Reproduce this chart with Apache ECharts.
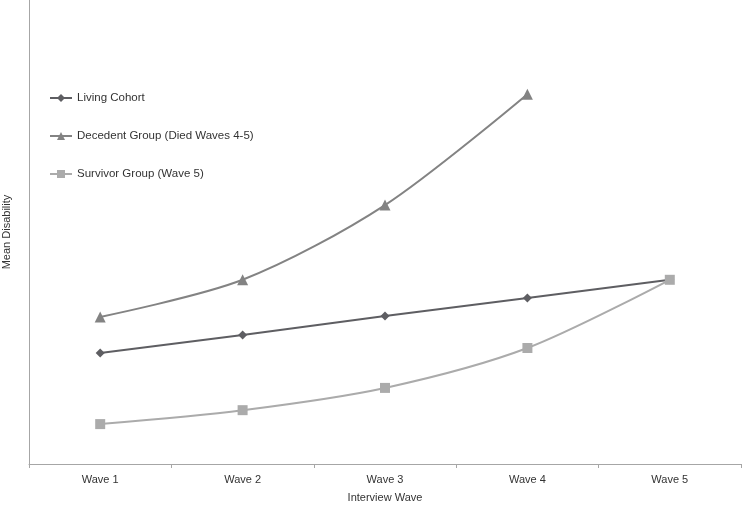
<!DOCTYPE html>
<html>
<head>
<meta charset="utf-8">
<script src="https://cdn.jsdelivr.net/npm/echarts@6/dist/echarts.min.js"></script>
<style>
  html, body { margin: 0; padding: 0; background: #fff; }
  #chart { width: 742px; height: 505px; }
</style>
</head>
<body>
<div id="chart"></div>
<script>
const waves = ['Wave 1', 'Wave 2', 'Wave 3', 'Wave 4', 'Wave 5'];
const living = [23.9, 27.8, 31.9, 35.8, 39.7];
const decedent = [31.7, 39.7, 55.8, 79.7, null];
const survivor = [8.6, 11.6, 16.4, 25.0, 39.7];

const FONT = 'Liberation Sans, Arial, sans-serif';
const AXIS = '#a6a6a6';
const TEXT = '#333';

const chart = echarts.init(document.getElementById('chart'));
chart.setOption({
  animation: false,
  textStyle: { fontFamily: FONT },
  grid: { left: 29, right: 1, top: 0, bottom: 41, containLabel: false, outerBoundsMode: 'none' },
  legend: {
    orient: 'vertical',
    left: 44,
    top: 87,
    itemWidth: 22,
    itemHeight: 10,
    itemGap: 26,
    textStyle: { color: TEXT, fontSize: 11.5, fontFamily: FONT },
    data: ['Living Cohort', 'Decedent Group (Died Waves 4-5)', 'Survivor Group (Wave 5)'],
  },
  xAxis: {
    type: 'category',
    data: waves,
    boundaryGap: true,
    name: 'Interview Wave',
    nameLocation: 'middle',
    nameGap: 28,
    nameTextStyle: { color: TEXT, fontSize: 11 },
    axisLine: { lineStyle: { color: AXIS } },
    axisTick: { show: true, length: 4, lineStyle: { color: AXIS } },
    axisLabel: { color: TEXT, fontSize: 11, margin: 10 },
  },
  yAxis: {
    type: 'value',
    min: 0,
    max: 100,
    name: 'Mean Disability',
    nameLocation: 'middle',
    nameGap: 17,
    nameTextStyle: { color: TEXT, fontSize: 11 },
    axisLine: { show: true, lineStyle: { color: AXIS } },
    axisTick: { show: false },
    axisLabel: { show: false },
    splitLine: { show: false },
  },
  series: [
    {
      name: 'Living Cohort',
      type: 'line',
      data: living,
      symbol: 'diamond',
      symbolSize: 9,
      itemStyle: { color: '#5e5e62' },
      lineStyle: { color: '#5e5e62', width: 2 },
    },
    {
      name: 'Decedent Group (Died Waves 4-5)',
      type: 'line',
      data: decedent,
      smooth: 0.3,
      symbol: 'triangle',
      symbolSize: 11,
      itemStyle: { color: '#838383' },
      lineStyle: { color: '#838383', width: 2 },
    },
    {
      name: 'Survivor Group (Wave 5)',
      type: 'line',
      data: survivor,
      smooth: 0.3,
      symbol: 'rect',
      symbolSize: 10,
      itemStyle: { color: '#ababab' },
      lineStyle: { color: '#ababab', width: 2 },
    },
  ],
});
</script>
</body>
</html>
